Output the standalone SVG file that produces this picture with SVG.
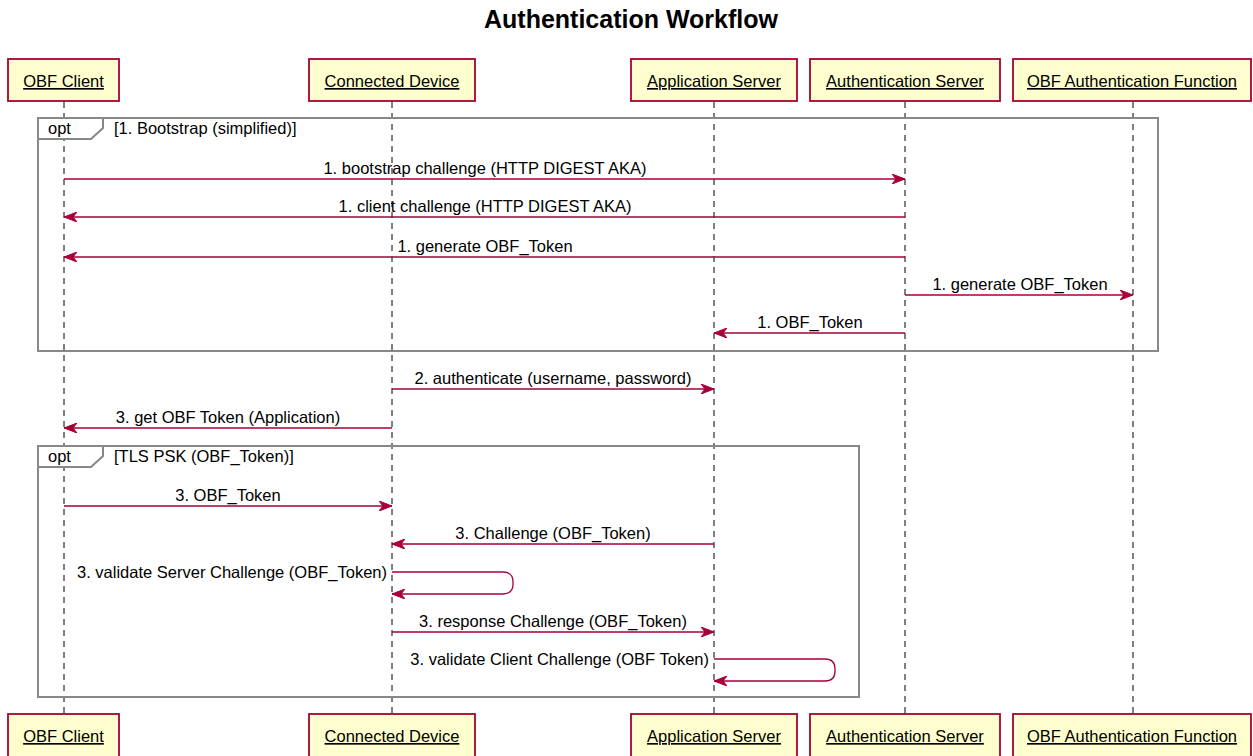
<svg xmlns="http://www.w3.org/2000/svg" width="1253" height="756" viewBox="0 0 1253 756">
<style>
.t{font-family:"Liberation Sans",Arial,sans-serif;font-size:16.5px;fill:#000}
.m{text-anchor:middle}
.e{text-anchor:end}
.title{font-family:"Liberation Sans",Arial,sans-serif;font-size:25px;font-weight:bold;text-anchor:middle;fill:#000}
.pbox{fill:#FEFECE;stroke:#A80036;stroke-width:1.8}
.pt{font-family:"Liberation Sans",Arial,sans-serif;font-size:16.5px;text-anchor:middle;text-decoration:underline;fill:#000}
.life{stroke:#000;stroke-width:1;stroke-dasharray:6,5}
.frame{fill:none;stroke:#888;stroke-width:2}
.tab{fill:#fff;stroke:#888;stroke-width:2}
.msg{fill:none;stroke:#A80036;stroke-width:1.3}
.ah{fill:#A80036;stroke:#A80036;stroke-width:1}
</style>
<defs>
<marker id="arr" viewBox="0 0 14 10" refX="13" refY="5" markerWidth="14" markerHeight="10" markerUnits="userSpaceOnUse" orient="auto">
<polygon points="0,0 13,5 0,10 4,5" class="ah"/>
</marker>
</defs>
<rect x="0" y="0" width="1253" height="756" fill="#fff"/>
<text class="title" x="631" y="28">Authentication Workflow</text>

<g id="lifelines">
<line class="life" x1="64" y1="102" x2="64" y2="714"/>
<line class="life" x1="392" y1="102" x2="392" y2="714"/>
<line class="life" x1="714" y1="102" x2="714" y2="714"/>
<line class="life" x1="905" y1="102" x2="905" y2="714"/>
<line class="life" x1="1133" y1="102" x2="1133" y2="714"/>
</g>

<g id="opt1">
<rect class="frame" x="38" y="118" width="1120" height="233"/>
<path class="tab" d="M38,118 H103 V128 L91,139 H38 Z"/>
<text class="t" x="48" y="134">opt</text>
<text class="t" x="114" y="134">[1. Bootstrap (simplified)]</text>
</g>
<g id="opt2">
<rect class="frame" x="38" y="446" width="821" height="251"/>
<path class="tab" d="M38,446 H103 V456 L91,467 H38 Z"/>
<text class="t" x="48" y="462">opt</text>
<text class="t" x="114" y="462">[TLS PSK (OBF_Token)]</text>
</g>

<g id="connectors">
<line class="msg" x1="64" y1="179" x2="905" y2="179" marker-end="url(#arr)"/>
<text class="t m" x="485" y="174">1. bootstrap challenge (HTTP DIGEST AKA)</text>
<line class="msg" x1="905" y1="217" x2="64" y2="217" marker-end="url(#arr)"/>
<text class="t m" x="485" y="212">1. client challenge (HTTP DIGEST AKA)</text>
<line class="msg" x1="905" y1="257" x2="64" y2="257" marker-end="url(#arr)"/>
<text class="t m" x="485" y="252">1. generate OBF_Token</text>
<line class="msg" x1="905" y1="295" x2="1133" y2="295" marker-end="url(#arr)"/>
<text class="t m" x="1020" y="290">1. generate OBF_Token</text>
<line class="msg" x1="905" y1="333" x2="714" y2="333" marker-end="url(#arr)"/>
<text class="t m" x="810" y="328">1. OBF_Token</text>
<line class="msg" x1="392" y1="389" x2="714" y2="389" marker-end="url(#arr)"/>
<text class="t m" x="553" y="384">2. authenticate (username, password)</text>
<line class="msg" x1="392" y1="428" x2="64" y2="428" marker-end="url(#arr)"/>
<text class="t m" x="228" y="423">3. get OBF Token (Application)</text>
<line class="msg" x1="64" y1="506" x2="392" y2="506" marker-end="url(#arr)"/>
<text class="t m" x="228" y="501">3. OBF_Token</text>
<line class="msg" x1="714" y1="544" x2="392" y2="544" marker-end="url(#arr)"/>
<text class="t m" x="553" y="539">3. Challenge (OBF_Token)</text>
<path class="msg" d="M392,572 H503 Q513,572 513,582 V584 Q513,594 503,594 H392" marker-end="url(#arr)"/>
<text class="t e" x="387" y="578">3. validate Server Challenge (OBF_Token)</text>
<line class="msg" x1="392" y1="632" x2="714" y2="632" marker-end="url(#arr)"/>
<text class="t m" x="553" y="627">3. response Challenge (OBF_Token)</text>
<path class="msg" d="M714,659 H825 Q835,659 835,669 V671 Q835,681 825,681 H714" marker-end="url(#arr)"/>
<text class="t e" x="709" y="665">3. validate Client Challenge (OBF Token)</text>
</g>

<g id="p-obf-client">
<rect class="pbox" x="8" y="59" width="111" height="42"/>
<text class="pt" x="63.5" y="87">OBF Client</text>
<rect class="pbox" x="8" y="714" width="111" height="44"/>
<text class="pt" x="63.5" y="742">OBF Client</text>
</g>
<g id="p-connected-device">
<rect class="pbox" x="309" y="59" width="166" height="42"/>
<text class="pt" x="392" y="87">Connected Device</text>
<rect class="pbox" x="309" y="714" width="166" height="44"/>
<text class="pt" x="392" y="742">Connected Device</text>
</g>
<g id="p-application-server">
<rect class="pbox" x="631" y="59" width="166" height="42"/>
<text class="pt" x="714" y="87">Application Server</text>
<rect class="pbox" x="631" y="714" width="166" height="44"/>
<text class="pt" x="714" y="742">Application Server</text>
</g>
<g id="p-authentication-server">
<rect class="pbox" x="810" y="59" width="190" height="42"/>
<text class="pt" x="905" y="87">Authentication Server</text>
<rect class="pbox" x="810" y="714" width="190" height="44"/>
<text class="pt" x="905" y="742">Authentication Server</text>
</g>
<g id="p-obf-auth-function">
<rect class="pbox" x="1013" y="59" width="238" height="42"/>
<text class="pt" x="1132" y="87">OBF Authentication Function</text>
<rect class="pbox" x="1013" y="714" width="238" height="44"/>
<text class="pt" x="1132" y="742">OBF Authentication Function</text>
</g>
</svg>
